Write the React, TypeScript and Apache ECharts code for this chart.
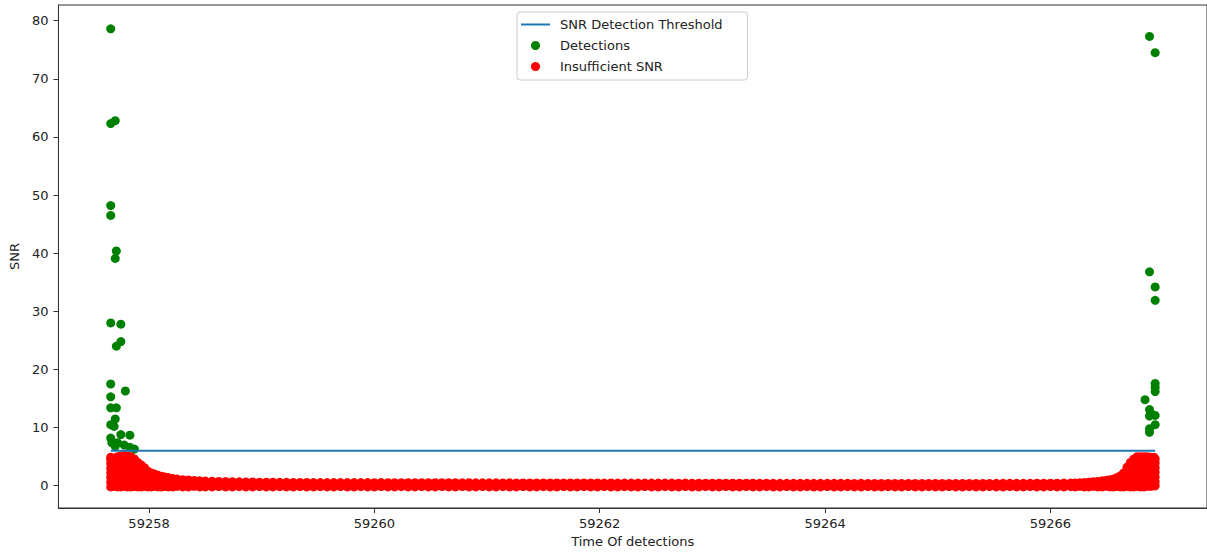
import React, { useEffect, useRef } from "react";
import * as echarts from "echarts";

const xTicks = [59258, 59260, 59262, 59264, 59266];
const yTicks = [0, 10, 20, 30, 40, 50, 60, 70, 80];
const seriesNames = ["SNR Detection Threshold", "Detections", "Insufficient SNR"];

const thresholdValue = 6;
const thresholdTimes = [59257.66, 59266.93];

// [time, SNR]
const detections: [number, number][] = [
  [59257.66, 78.6],
  [59257.66, 62.3], [59257.70, 62.8],
  [59257.66, 48.2], [59257.66, 46.5],
  [59257.71, 40.4], [59257.70, 39.1],
  [59257.66, 28.0], [59257.75, 27.8],
  [59257.71, 24.0], [59257.75, 24.8],
  [59257.66, 17.5], [59257.79, 16.3],
  [59257.66, 15.3],
  [59257.66, 13.4], [59257.71, 13.4],
  [59257.70, 11.5], [59257.66, 10.5], [59257.69, 10.2],
  [59257.66, 8.2], [59257.75, 8.8], [59257.83, 8.7],
  [59257.67, 7.4], [59257.72, 7.4], [59257.78, 7.0], [59257.83, 6.6], [59257.70, 6.8], [59257.87, 6.3],
  [59266.88, 77.3], [59266.93, 74.5],
  [59266.88, 36.8], [59266.93, 34.2], [59266.93, 31.9],
  [59266.93, 17.6], [59266.93, 16.9], [59266.93, 16.2],
  [59266.84, 14.8],
  [59266.88, 13.1], [59266.89, 12.5], [59266.93, 12.1], [59266.88, 12.0],
  [59266.93, 10.5],
  [59266.88, 9.8], [59266.88, 9.2],
];

// each row: time, then the SNR values recorded at that time
const insufficient: number[][] = [
  [59257.66, -0.2, 0.6, 1.4, 2.2, 3.0, 3.8, 4.5, 4.9],
  [59257.69, -0.1, 0.7, 1.5, 2.3, 3.1, 3.9, 4.6],
  [59257.72, -0.2, 0.5, 1.3, 2.1, 2.9, 3.7, 4.4, 5.0],
  [59257.75, -0.2, 0.6, 1.4, 2.2, 3.0, 3.8, 4.6, 5.1],
  [59257.78, -0.1, 0.7, 1.5, 2.3, 3.1, 3.9, 4.7, 5.2],
  [59257.81, -0.2, 0.6, 1.4, 2.2, 3.0, 3.8, 4.6, 5.1],
  [59257.84, -0.2, 0.5, 1.3, 2.1, 2.9, 3.7, 4.4, 5.0],
  [59257.87, -0.1, 0.7, 1.5, 2.3, 3.1, 3.9, 4.6],
  [59257.90, -0.2, 0.6, 1.4, 2.2, 3.0, 3.6, 4.0],
  [59257.93, -0.2, 0.6, 1.4, 2.2, 2.9, 3.6],
  [59257.96, -0.1, 0.7, 1.5, 2.3, 3.1],
  [59257.99, -0.2, 0.6, 1.3, 1.9, 2.5],
  [59258.02, -0.2, 0.5, 1.2, 1.8, 2.2],
  [59258.05, -0.1, 0.6, 1.3, 2.0],
  [59258.08, -0.2, 0.5, 1.2, 1.8],
  [59258.11, -0.2, 0.5, 1.1, 1.65],
  [59258.14, -0.1, 0.6, 1.2, 1.5],
  [59258.17, -0.2, 0.5, 1.0, 1.4],
  [59258.21, -0.2, 0.5, 1.25],
  [59258.25, -0.1, 0.5, 1.15],
  [59258.30, -0.2, 0.5, 1.05],
  [59258.35, -0.2, 0.4, 1.0],
  [59258.40, -0.1, 0.5, 0.9],
  [59258.45, -0.2, 0.4, 0.85],
  [59258.50, -0.2, 0.4, 0.8],
  [59258.56, -0.2, 0.78], [59258.62, -0.15, 0.75], [59258.68, -0.2, 0.72], [59258.74, -0.2, 0.7],
  [59258.80, -0.15, 0.68], [59258.86, -0.2, 0.66], [59258.92, -0.2, 0.64], [59258.98, -0.15, 0.62],
  [59259.04, -0.2, 0.6], [59259.10, -0.2, 0.6], [59259.16, -0.15, 0.58], [59259.22, -0.2, 0.58],
  [59259.28, -0.2, 0.57], [59259.34, -0.15, 0.56], [59259.40, -0.2, 0.56], [59259.46, -0.2, 0.55],
  [59259.52, -0.15, 0.55], [59259.58, -0.2, 0.55], [59259.64, -0.2, 0.54], [59259.70, -0.15, 0.55],
  [59259.76, -0.2, 0.54], [59259.82, -0.2, 0.55], [59259.88, -0.15, 0.54], [59259.94, -0.2, 0.54],
  [59260.00, -0.2, 0.53], [59260.06, -0.15, 0.54], [59260.12, -0.2, 0.53], [59260.18, -0.2, 0.53],
  [59260.24, -0.15, 0.52], [59260.30, -0.2, 0.53], [59260.36, -0.2, 0.52], [59260.42, -0.15, 0.52],
  [59260.48, -0.2, 0.52], [59260.54, -0.2, 0.51], [59260.60, -0.15, 0.52], [59260.66, -0.2, 0.51],
  [59260.72, -0.2, 0.51], [59260.78, -0.15, 0.5], [59260.84, -0.2, 0.51], [59260.90, -0.2, 0.5],
  [59260.96, -0.15, 0.5], [59261.02, -0.2, 0.5], [59261.08, -0.2, 0.5], [59261.14, -0.15, 0.49],
  [59261.20, -0.2, 0.5], [59261.26, -0.2, 0.49], [59261.32, -0.15, 0.49], [59261.38, -0.2, 0.49],
  [59261.44, -0.2, 0.48], [59261.50, -0.15, 0.49], [59261.56, -0.2, 0.48], [59261.62, -0.2, 0.48],
  [59261.68, -0.15, 0.48], [59261.74, -0.2, 0.47], [59261.80, -0.2, 0.48], [59261.86, -0.15, 0.47],
  [59261.92, -0.2, 0.47], [59261.98, -0.2, 0.47], [59262.04, -0.15, 0.46], [59262.10, -0.2, 0.47],
  [59262.16, -0.2, 0.46], [59262.22, -0.15, 0.46], [59262.28, -0.2, 0.46], [59262.34, -0.2, 0.45],
  [59262.40, -0.15, 0.46], [59262.46, -0.2, 0.45], [59262.52, -0.2, 0.45], [59262.58, -0.15, 0.45],
  [59262.64, -0.2, 0.45], [59262.70, -0.2, 0.44], [59262.76, -0.15, 0.45], [59262.82, -0.2, 0.44],
  [59262.88, -0.2, 0.44], [59262.94, -0.15, 0.44], [59263.00, -0.2, 0.44], [59263.06, -0.2, 0.43],
  [59263.12, -0.15, 0.44], [59263.18, -0.2, 0.43], [59263.24, -0.2, 0.43], [59263.30, -0.15, 0.43],
  [59263.36, -0.2, 0.43], [59263.42, -0.2, 0.42], [59263.48, -0.15, 0.43], [59263.54, -0.2, 0.42],
  [59263.60, -0.2, 0.42], [59263.66, -0.15, 0.42], [59263.72, -0.2, 0.42], [59263.78, -0.2, 0.42],
  [59263.84, -0.15, 0.41], [59263.90, -0.2, 0.42], [59263.96, -0.2, 0.41], [59264.02, -0.15, 0.41],
  [59264.08, -0.2, 0.41], [59264.14, -0.2, 0.41], [59264.20, -0.15, 0.41], [59264.26, -0.2, 0.4],
  [59264.32, -0.2, 0.41], [59264.38, -0.15, 0.4], [59264.44, -0.2, 0.4], [59264.50, -0.2, 0.4],
  [59264.56, -0.15, 0.4], [59264.62, -0.2, 0.4], [59264.68, -0.2, 0.4], [59264.74, -0.15, 0.4],
  [59264.80, -0.2, 0.4], [59264.86, -0.2, 0.4], [59264.92, -0.15, 0.4], [59264.98, -0.2, 0.4],
  [59265.04, -0.2, 0.4], [59265.10, -0.15, 0.4], [59265.16, -0.2, 0.4], [59265.22, -0.2, 0.4],
  [59265.28, -0.15, 0.4], [59265.34, -0.2, 0.4], [59265.40, -0.2, 0.4], [59265.46, -0.15, 0.4],
  [59265.52, -0.2, 0.41], [59265.58, -0.2, 0.41], [59265.64, -0.15, 0.41], [59265.70, -0.2, 0.42],
  [59265.76, -0.2, 0.42], [59265.82, -0.15, 0.42], [59265.88, -0.2, 0.43], [59265.94, -0.2, 0.43],
  [59266.00, -0.15, 0.44], [59266.06, -0.2, 0.44], [59266.12, -0.2, 0.45], [59266.18, -0.15, 0.45],
  [59266.22, -0.2, 0.47],
  [59266.26, -0.1, 0.5],
  [59266.30, -0.2, 0.55],
  [59266.34, -0.2, 0.6],
  [59266.38, -0.1, 0.35, 0.7],
  [59266.42, -0.2, 0.3, 0.75],
  [59266.46, -0.2, 0.4, 0.85],
  [59266.50, -0.1, 0.45, 0.95],
  [59266.53, -0.2, 0.4, 1.05],
  [59266.56, -0.2, 0.5, 1.15],
  [59266.59, -0.1, 0.6, 1.4],
  [59266.62, -0.2, 0.6, 1.2, 1.7],
  [59266.65, -0.2, 0.5, 1.2, 1.8, 2.2],
  [59266.68, -0.1, 0.7, 1.5, 2.3, 3.2],
  [59266.71, -0.2, 0.6, 1.4, 2.2, 3.0, 4.0],
  [59266.74, -0.2, 0.6, 1.4, 2.2, 3.0, 3.8, 4.6],
  [59266.77, -0.1, 0.7, 1.5, 2.3, 3.1, 3.9, 4.6, 5.0],
  [59266.80, -0.2, 0.6, 1.4, 2.2, 3.0, 3.8, 4.6, 5.0],
  [59266.83, -0.2, 0.6, 1.4, 2.2, 3.0, 3.8, 4.5, 5.0],
  [59266.86, -0.1, 0.7, 1.5, 2.3, 3.1, 3.9, 4.7, 5.0],
  [59266.89, -0.1, 0.6, 1.4, 2.2, 3.0, 3.8, 4.6, 4.9],
  [59266.92, 0.0, 0.6, 1.4, 2.2, 3.0, 3.8, 4.5, 4.9],
  [59266.93, 0.0, 0.7, 1.5, 2.3, 3.1, 3.9, 4.6],
];

const FONT = "'DejaVu Sans', sans-serif";
const TEXT = "#222";
const SPINE = "#333";

export default function App() {
  const ref = useRef<HTMLDivElement>(null);

  useEffect(() => {
    if (!ref.current) return;
    const chart = echarts.init(ref.current, undefined, { renderer: "svg" });

    const redPoints: number[][] = insufficient.flatMap((row) =>
      row.slice(1).map((v) => [row[0], v])
    );

    chart.setOption({
      animation: false,
      backgroundColor: "#fff",
      textStyle: { fontFamily: FONT },
      grid: {
        left: 53,
        top: 5,
        width: 1160,
        height: 503,
        show: true,
        borderColor: SPINE,
        borderWidth: 1,
        backgroundColor: "transparent",
      },
      legend: {
        data: [
          { name: seriesNames[0], icon: "path://M0,0 H29 V2 H0 Z" },
          { name: seriesNames[1], icon: "circle" },
          { name: seriesNames[2], icon: "circle" },
        ],
        orient: "vertical",
        left: 517,
        top: 12,
        itemWidth: 29,
        itemHeight: 9,
        itemGap: 8,
        padding: [6, 25, 7, 4],
        backgroundColor: "rgba(255,255,255,0.8)",
        borderColor: "#ccc",
        borderWidth: 1,
        borderRadius: 3,
        textStyle: { fontFamily: FONT, fontSize: 13, color: TEXT, padding: [0, 0, 0, 5] },
      },
      xAxis: {
        type: "value",
        min: 59257.196,
        max: 59267.39,
        name: "Time Of detections",
        nameLocation: "middle",
        nameGap: 27,
        nameTextStyle: { fontFamily: FONT, fontSize: 13, color: TEXT },
        splitLine: { show: false },
        axisLine: { show: true, onZero: false, lineStyle: { color: SPINE, width: 1 } },
        axisTick: { show: true, customValues: xTicks, length: 5, lineStyle: { color: SPINE } },
        axisLabel: {
          customValues: xTicks,
          margin: 9,
          fontFamily: FONT,
          fontSize: 13,
          color: TEXT,
          formatter: (v: number) => String(v),
        },
      },
      yAxis: {
        type: "value",
        min: -3.83,
        max: 82.7,
        name: "SNR",
        nameLocation: "middle",
        nameGap: 32,
        nameTextStyle: { fontFamily: FONT, fontSize: 13, color: TEXT },
        splitLine: { show: false },
        axisLine: { show: true, onZero: false, lineStyle: { color: SPINE, width: 1 } },
        axisTick: { show: true, customValues: yTicks, length: 5, lineStyle: { color: SPINE } },
        axisLabel: {
          customValues: yTicks,
          margin: 10,
          fontFamily: FONT,
          fontSize: 13,
          color: TEXT,
          formatter: (v: number) => String(v),
        },
      },
      series: [
        {
          name: seriesNames[0],
          type: "line",
          data: thresholdTimes.map((t) => [t, thresholdValue]),
          symbol: "none",
          lineStyle: { color: "#1f77b4", width: 2 },
          itemStyle: { color: "#1f77b4" },
          z: 4,
        },
        {
          name: seriesNames[1],
          type: "scatter",
          data: detections,
          symbolSize: 9,
          itemStyle: { color: "green", opacity: 1 },
          z: 2,
        },
        {
          name: seriesNames[2],
          type: "scatter",
          data: redPoints,
          symbolSize: 9,
          itemStyle: { color: "red", opacity: 1 },
          z: 3,
        },
      ],
    });

    return () => chart.dispose();
  }, []);

  return (
    <div
      ref={ref}
      style={{ position: "absolute", left: 0, top: 0, width: 1207, height: 556 }}
    />
  );
}
